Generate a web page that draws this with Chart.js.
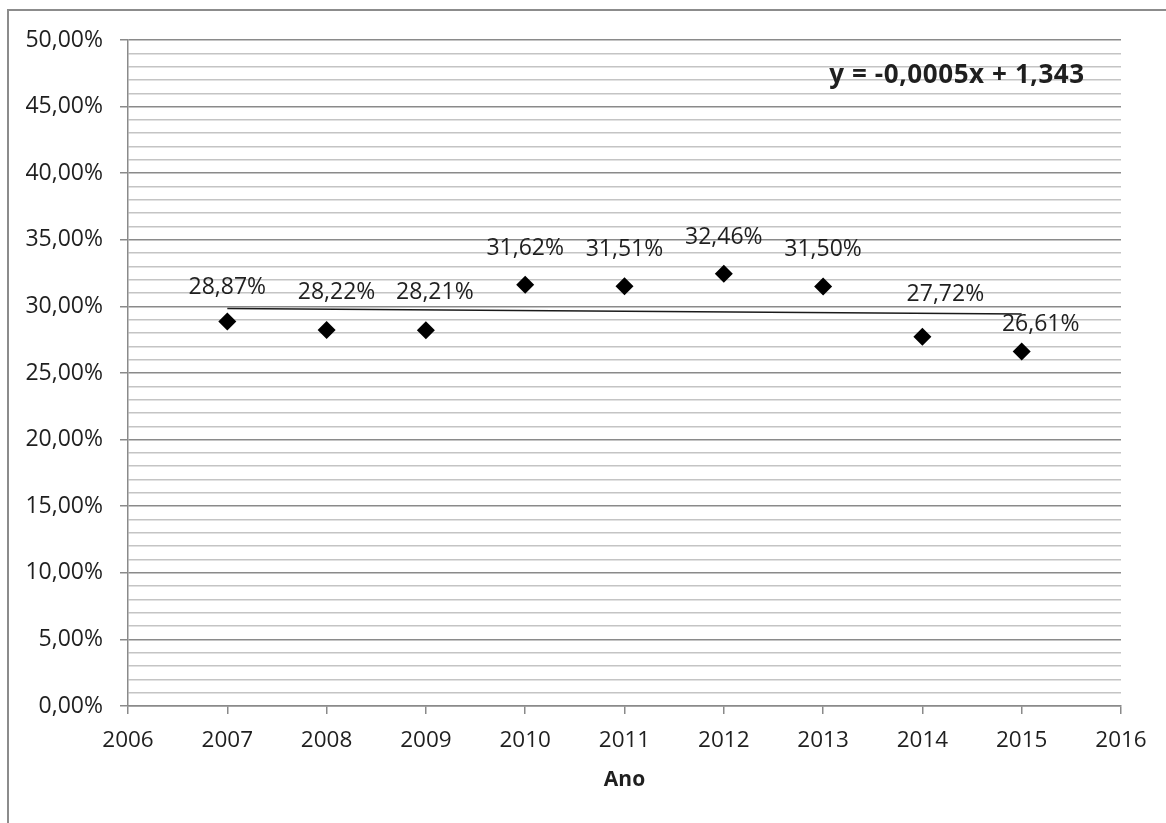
<!DOCTYPE html>
<html>
<head>
<meta charset="utf-8">
<title>Participação anual</title>
<script src="https://cdn.jsdelivr.net/npm/chart.js@4/dist/chart.umd.min.js"></script>
<style>
  html, body { margin: 0; padding: 0; background: #ffffff; }
  canvas { display: block; }
</style>
</head>
<body>
<canvas id="chart" width="1166" height="823"></canvas>
<script>
// Yearly share (%) and its linear trend
const years = [2007, 2008, 2009, 2010, 2011, 2012, 2013, 2014, 2015];
const shares = [28.87, 28.22, 28.21, 31.62, 31.51, 32.46, 31.50, 27.72, 26.61];

// Axis ranges and tick values
const xAxisYears = [2006, 2007, 2008, 2009, 2010, 2011, 2012, 2013, 2014, 2015, 2016];
const yAxisMin = 0;
const yAxisMax = 50;
const yMajorStep = 5;

const xAxisTitle = 'Ano';
const trendEquation = 'y = -0,0005x + 1,343';

// Per-label nudges (dx, dy in px) relative to each marker
const labelNudge = [[0, -34], [10, -38], [9, -38], [0, -36], [0, -37], [0, -36], [0, -37], [23, -42], [19, -27]];

const FONT = '"Open Sans", "DejaVu Sans", sans-serif';
const TEXT = '#1f1f1f';
const MAJOR = '#8a8a8a';
const MINOR = '#c4c4c4';

const pct = v => v.toFixed(2).replace('.', ',') + '%';

// Least-squares trend over the plotted years
function trendLine(xs, ys) {
  const n = xs.length;
  const mx = xs.reduce((a, b) => a + b, 0) / n;
  const my = ys.reduce((a, b) => a + b, 0) / n;
  let sxy = 0, sxx = 0;
  for (let i = 0; i < n; i++) {
    sxy += (xs[i] - mx) * (ys[i] - my);
    sxx += (xs[i] - mx) * (xs[i] - mx);
  }
  const slope = sxy / sxx;
  const icpt = my - slope * mx;
  const x0 = xs[0], x1 = xs[n - 1];
  return [{ x: x0, y: icpt + slope * x0 }, { x: x1, y: icpt + slope * x1 }];
}

const yTickValues = [];
for (let v = yAxisMin; v <= yAxisMax; v += 1) yTickValues.push(v);

const points = years.map((yr, i) => ({ x: yr, y: shares[i] }));

// Outer frame of the chart object (top and left edges)
const framePlugin = {
  id: 'frame',
  beforeDraw(chart) {
    const c = chart.ctx;
    c.save();
    c.strokeStyle = '#8c8c8c';
    c.lineWidth = 2;
    c.beginPath();
    c.moveTo(8, chart.height);
    c.lineTo(8, 10);
    c.lineTo(chart.width, 10);
    c.stroke();
    c.restore();
  }
};

// Value labels above the markers
const valueLabels = {
  id: 'valueLabels',
  afterDatasetsDraw(chart) {
    const c = chart.ctx;
    const xs = chart.scales.x, ys = chart.scales.y;
    c.save();
    c.font = '23px ' + FONT;
    c.fillStyle = TEXT;
    c.textAlign = 'center';
    c.textBaseline = 'middle';
    years.forEach((yr, i) => {
      const px = xs.getPixelForValue(yr) + labelNudge[i][0];
      const py = ys.getPixelForValue(shares[i]) + labelNudge[i][1];
      c.fillText(pct(shares[i]), px, py);
    });
    c.restore();
  }
};

// Trend equation in the upper right of the plot
const equationLabel = {
  id: 'equationLabel',
  afterDraw(chart) {
    const c = chart.ctx;
    const a = chart.chartArea;
    c.save();
    c.font = 'bold 26px ' + FONT;
    if ('letterSpacing' in c) c.letterSpacing = '0.6px';
    c.fillStyle = TEXT;
    c.textAlign = 'center';
    c.textBaseline = 'middle';
    c.fillText(trendEquation, a.right - 164, a.top + 36);
    c.restore();
  }
};

new Chart(document.getElementById('chart'), {
  type: 'scatter',
  data: {
    datasets: [
      {
        label: 'Tendência',
        type: 'line',
        data: trendLine(years, shares),
        borderColor: '#1a1a1a',
        borderWidth: 1.6,
        pointRadius: 0,
        fill: false,
        order: 2
      },
      {
        label: 'Participação',
        data: points,
        pointStyle: 'rectRot',
        pointRadius: 9,
        pointHoverRadius: 9,
        backgroundColor: '#000000',
        borderColor: '#000000',
        borderWidth: 0,
        order: 1
      }
    ]
  },
  options: {
    responsive: false,
    animation: false,
    events: [],
    layout: { padding: { top: 40, right: 45, bottom: 0, left: 0 } },
    plugins: { legend: { display: false }, tooltip: { enabled: false } },
    scales: {
      x: {
        type: 'linear',
        min: xAxisYears[0],
        max: xAxisYears[xAxisYears.length - 1],
        afterBuildTicks(s) { s.ticks = xAxisYears.map(v => ({ value: v })); },
        afterFit(s) { s.height = 117; },
        ticks: {
          autoSkip: false,
          maxRotation: 0,
          padding: 13,
          color: TEXT,
          font: { family: FONT, size: 22.5 },
          callback: v => String(v)
        },
        grid: { drawOnChartArea: false, tickLength: 8, color: MAJOR, lineWidth: 1.5 },
        border: { color: MAJOR, width: 1.5 },
        title: {
          display: true,
          text: xAxisTitle,
          color: TEXT,
          font: { family: FONT, size: 21, weight: 'bold' },
          padding: { top: 0, bottom: 30 }
        }
      },
      y: {
        min: yAxisMin,
        max: yAxisMax,
        afterBuildTicks(s) { s.ticks = yTickValues.map(v => ({ value: v })); },
        afterFit(s) { s.width = 128; },
        ticks: {
          autoSkip: false,
          padding: 17,
          color: TEXT,
          font: { family: FONT, size: 23 },
          callback: v => (v % yMajorStep === 0 ? pct(v) : '')
        },
        grid: {
          tickLength: 8,
          lineWidth: 1.5,
          color: ctx => (ctx.tick && ctx.tick.value % yMajorStep === 0 ? MAJOR : MINOR),
          tickColor: ctx => (ctx.tick && ctx.tick.value % yMajorStep === 0 ? MAJOR : 'rgba(0,0,0,0)')
        },
        border: { color: MAJOR, width: 1.5 }
      }
    }
  },
  plugins: [framePlugin, valueLabels, equationLabel]
});
</script>
</body>
</html>
